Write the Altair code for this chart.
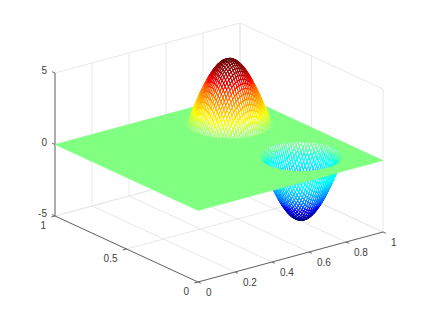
import math
import altair as alt

# ---- values ----
X_TICKS = [0, 0.2, 0.4, 0.6, 0.8, 1]
X_LABELS = ["0", "0.2", "0.4", "0.6", "0.8", "1"]
Y_TICKS = [0, 0.5, 1]
Y_LABELS = ["0", "0.5", "1"]
Z_TICKS = [-5, 0, 5]
Z_LABELS = ["-5", "0", "5"]

HUMP_CENTRE = [0.75, 0.75]
BOWL_CENTRE = [0.75, 0.25]
HUMP_PEAK = 0.98
BOWL_PEAK = -0.96
HOLE_RADIUS = 0.18
CELL = 0.01
# dome heights per mesh node away from its centre: row j holds nodes i = j, j+1, ...
# (the dome is symmetric; nodes beyond a row's end are at height 0)
DOME_TRIANGLE = [
    [4.60, 4.58, 4.53, 4.44, 4.32, 4.17, 3.98, 3.77, 3.52, 3.25, 2.96, 2.64, 2.30, 1.94, 1.57, 1.19, 0.80, 0.40],
    [4.57, 4.51, 4.43, 4.31, 4.15, 3.97, 3.75, 3.51, 3.24, 2.94, 2.63, 2.29, 1.93, 1.56, 1.17, 0.78, 0.39],
    [4.46, 4.37, 4.25, 4.10, 3.92, 3.70, 3.46, 3.19, 2.89, 2.58, 2.24, 1.89, 1.52, 1.14, 0.75, 0.35],
    [4.29, 4.17, 4.02, 3.84, 3.62, 3.38, 3.11, 2.82, 2.51, 2.17, 1.82, 1.45, 1.07, 0.69, 0.30],
    [4.05, 3.90, 3.72, 3.51, 3.27, 3.01, 2.71, 2.40, 2.07, 1.72, 1.36, 0.99, 0.60, 0.22],
    [3.75, 3.57, 3.36, 3.13, 2.86, 2.58, 2.27, 1.94, 1.60, 1.24, 0.87, 0.50, 0.11],
    [3.40, 3.19, 2.96, 2.70, 2.42, 2.12, 1.79, 1.45, 1.10, 0.74, 0.37],
    [2.99, 2.76, 2.51, 2.23, 1.93, 1.61, 1.28, 0.93, 0.58, 0.22],
    [2.53, 2.29, 2.02, 1.72, 1.41, 1.09, 0.75, 0.40, 0.05],
    [2.05, 1.78, 1.49, 1.19, 0.87, 0.54, 0.20],
    [1.52, 1.24, 0.95, 0.64, 0.32],
    [0.97, 0.69, 0.39, 0.08],
    [0.41, 0.12],
]
MESH_NODES = 18

JET_DOMAIN = [-4.2, -3.15, -1.05, 0, 1.05, 3.15, 4.2]
JET_RANGE = ["#00007f", "#0000ff", "#00ffff", "#80ff80", "#ffff00", "#ff0000", "#7f0000"]

W, H = 407, 301


# ---- view of the 3-D box on the plot area ----
def project(x, y, z):
    return (190 + 185 * x - 143 * y, 202.5 - 50 * x - 66 * y - 14.3 * z)


def depth(x, y, z):
    return 0.528 * x + 0.684 * y - 0.05 * z


def segs(rows):
    out = []
    for a, b in rows:
        p, q = project(*a), project(*b)
        out.append({"x": p[0], "y": p[1], "x2": q[0], "y2": q[1]})
    return out


grid = []
for t in X_TICKS:
    grid.append(((t, 0, -5), (t, 1, -5)))
    grid.append(((t, 1, -5), (t, 1, 5)))
for t in Y_TICKS:
    grid.append(((0, t, -5), (1, t, -5)))
    grid.append(((1, t, -5), (1, t, 5)))
for t in Z_TICKS:
    grid.append(((0, 1, t), (1, 1, t)))
    grid.append(((1, 1, t), (1, 0, t)))

axes_lines = [((0, 1, -5), (0, 1, 5)), ((0, 0, -5), (1, 0, -5)), ((0, 0, -5), (0, 1, -5))]
T = 0.02
for t in X_TICKS:
    axes_lines.append(((t, 0, -5), (t, -T, -5)))
for t in Y_TICKS:
    axes_lines.append(((0, t, -5), (-T, t, -5)))
for t in Z_TICKS:
    axes_lines.append(((0, 1, t), (0, 1 + T, t)))


def labels(ticks, names, fn, dx, dy):
    out = []
    for t, s in zip(ticks, names):
        p = project(*fn(t))
        out.append({"x": p[0] + dx, "y": p[1] + dy, "text": s})
    return out


left_text = labels(X_TICKS, X_LABELS, lambda t: (t, 0, -5), 8, 11)
right_text = (
    labels(Y_TICKS, Y_LABELS, lambda t: (0, t, -5), -9, 10)
    + labels(Z_TICKS, Z_LABELS, lambda t: (0, 1, t), -8, -2)
)


def node_height(i, j):
    lo, hi = sorted((abs(i), abs(j)))
    if lo >= len(DOME_TRIANGLE):
        return 0.0
    row = DOME_TRIANGLE[lo]
    return row[hi - lo] if hi - lo < len(row) else 0.0


def dome(centre, peak):
    n = MESH_NODES
    faces = []
    for j in range(-n, n):
        for i in range(-n, n):
            corners = [(i, j), (i + 1, j), (i + 1, j + 1), (i, j + 1)]
            zs = [peak * node_height(a, b) for a, b in corners]
            if not any(zs):
                continue
            pts3 = [(centre[0] + a * CELL, centre[1] + b * CELL, z) for (a, b), z in zip(corners, zs)]
            ring = [list(project(*p)) for p in pts3]
            ring.append(ring[0])
            mid = [sum(p[k] for p in pts3) / 4 for k in range(3)]
            faces.append({
                "type": "Feature",
                "properties": {"z": sum(zs) / 4, "d": depth(*mid)},
                "geometry": {"type": "Polygon", "coordinates": [ring]},
            })
    faces.sort(key=lambda f: -f["properties"]["d"])
    return faces


def circle(centre):
    pts = []
    for k in range(72, -1, -1):
        a = 2 * math.pi * k / 72
        pts.append(list(project(centre[0] + HOLE_RADIUS * math.cos(a),
                                centre[1] + HOLE_RADIUS * math.sin(a), 0)))
    return pts


def plane_outer():
    return [list(project(*c)) for c in [(0, 0, 0), (1, 0, 0), (1, 1, 0), (0, 1, 0), (0, 0, 0)]]


plane = [{
    "type": "Feature",
    "properties": {"z": 0},
    "geometry": {"type": "Polygon", "coordinates": [plane_outer(), circle(HUMP_CENTRE), circle(BOWL_CENTRE)]},
}]

xs = alt.Scale(domain=[0, W], range=[0, W], nice=False, zero=False)
ys = alt.Scale(domain=[0, H], range=[0, H], nice=False, zero=False)
jet = alt.Scale(domain=JET_DOMAIN, range=JET_RANGE)


def rules(rows, color, width):
    return alt.Chart(alt.Data(values=segs(rows))).mark_rule(color=color, strokeWidth=width).encode(
        x=alt.X("x:Q", scale=xs, axis=None),
        y=alt.Y("y:Q", scale=ys, axis=None),
        x2="x2:Q",
        y2="y2:Q",
    )


def mesh(faces):
    return alt.Chart(alt.Data(values=faces)).mark_geoshape(fill="white", strokeWidth=1.05).encode(
        stroke=alt.Stroke("properties.z:Q", scale=jet, legend=None)
    ).project(type="identity", scale=1, translate=[0, 0])


def text_layer(rows, align):
    return alt.Chart(alt.Data(values=rows)).mark_text(
        font="Liberation Sans", fontSize=10, color="#404040", align=align
    ).encode(
        x=alt.X("x:Q", scale=xs, axis=None),
        y=alt.Y("y:Q", scale=ys, axis=None),
        text="text:N",
    )


plane_layer = alt.Chart(alt.Data(values=plane)).mark_geoshape(
    fill="#80ff80", stroke="#80ff80", strokeWidth=0.5
).project(type="identity", scale=1, translate=[0, 0])

chart = alt.layer(
    rules(grid, "#e8e8e8", 1),
    rules(axes_lines, "#666666", 1),
    text_layer(left_text, "left"),
    text_layer(right_text, "right"),
    mesh(dome(BOWL_CENTRE, BOWL_PEAK)),
    plane_layer,
    mesh(dome(HUMP_CENTRE, HUMP_PEAK)),
).properties(
    width=W, height=H, padding=0, background="white",
    autosize=alt.AutoSizeParams(type="none")
).configure_view(stroke=None)

chart.save("out.html", embed_options={"renderer": "svg", "actions": False})
